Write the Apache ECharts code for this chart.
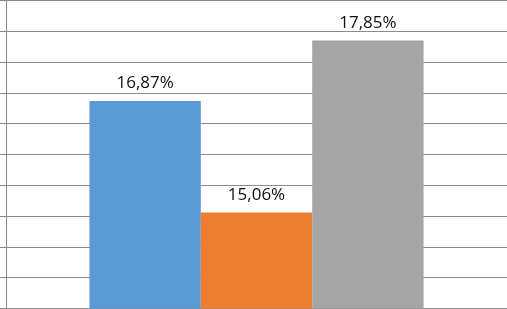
<!DOCTYPE html>
<html>
<head>
<meta charset="utf-8">
<script src="https://cdn.jsdelivr.net/npm/echarts@6/dist/echarts.min.js"></script>
<style>
html,body{margin:0;padding:0;background:#fff;}
#c{width:507px;height:309px;}
</style>
</head>
<body>
<div id="c"></div>
<script>
const categories = [''];
const seriesNames = ['A', 'B', 'C'];
const seriesValues = [[16.87], [15.06], [17.85]];
const seriesColors = ['#5B9BD5', '#ED7D31', '#A5A5A5'];

const chart = echarts.init(document.getElementById('c'), null, {renderer: 'canvas'});
const fmt = p => p.value.toFixed(2).replace('.', ',') + '%';
chart.setOption({
  animation: false,
  grid: {left: 6, right: 0, top: 0.5, bottom: 0.5, containLabel: false},
  xAxis: {
    type: 'category', data: categories,
    axisLine: {show: false}, axisTick: {show: false}, axisLabel: {show: false}
  },
  yAxis: {
    type: 'value', min: 13.5, max: 18.5, interval: 0.5,
    axisLine: {show: true, lineStyle: {color: '#868686', width: 1}},
    axisTick: {show: true, length: 6, lineStyle: {color: '#868686'}},
    axisLabel: {show: false},
    splitLine: {show: true, lineStyle: {color: '#8c8c8c', width: 1}}
  },
  series: seriesNames.map((n, i) => ({
    name: n, type: 'bar', data: seriesValues[i],
    barGap: '0%', barCategoryGap: '33.3%',
    itemStyle: {color: seriesColors[i]},
    label: {
      show: true, position: 'top', distance: 9, formatter: fmt,
      fontFamily: 'Open Sans', fontSize: 17, color: '#111'
    }
  }))
});
</script>
</body>
</html>
